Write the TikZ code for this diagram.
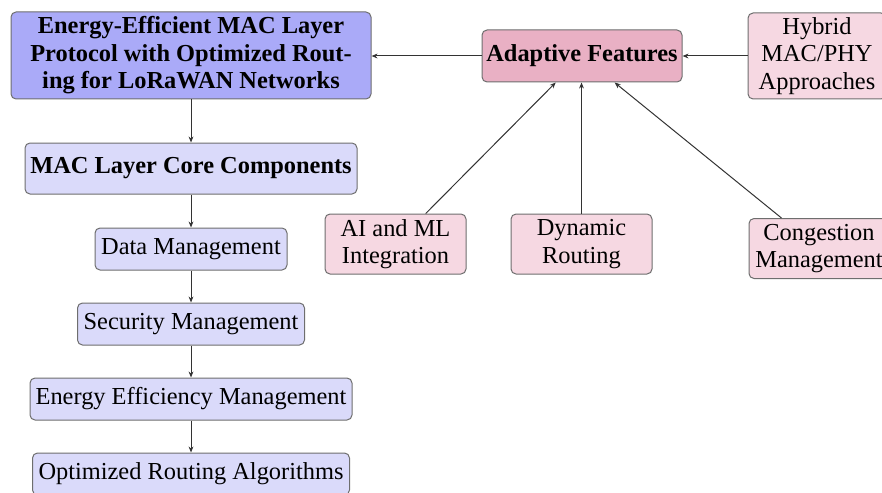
\documentclass[tikz,border=0pt]{standalone}
\usepackage{fontspec}
\setmainfont{Liberation Serif}
\usetikzlibrary{arrows.meta}
\definecolor{mainblue}{RGB}{170,170,248}
\definecolor{lightblue}{RGB}{218,218,250}
\definecolor{midpink}{RGB}{233,176,196}
\definecolor{lightpink}{RGB}{246,216,226}
\definecolor{edgegray}{RGB}{110,110,110}
\tikzset{
  basebox/.style={draw=edgegray, line width=0.5pt, rounded corners=2.5pt, align=center,
    inner sep=2pt, font=\fontsize{12.2}{13.8}\selectfont},
  mainbox/.style={basebox, fill=mainblue, font=\fontsize{12.2}{13.8}\selectfont\bfseries},
  corebox/.style={basebox, fill=lightblue},
  adbox/.style={basebox, fill=midpink, font=\fontsize{12.2}{13.8}\selectfont\bfseries},
  featbox/.style={basebox, fill=lightpink},
  conn/.style={draw=black!80, line width=0.5pt, -{Stealth[length=3pt,width=2.4pt]}}
}
\begin{document}
\begin{tikzpicture}[x=0.5pt,y=-0.5pt]
\useasboundingbox (0,0) rectangle (882,492);
\clip (0,0) rectangle (882,492);
\node[mainbox, minimum width=180pt, minimum height=43.5pt] (main) at (191,55.5)
  {Energy-Efficient MAC Layer\\Protocol with Optimized Rout-\\ing for LoRaWAN Networks};
\node[corebox, minimum width=166pt, minimum height=25.5pt, font=\fontsize{12.2}{13.8}\selectfont\bfseries] (core) at (191,168.5) {MAC Layer Core Components};
\node[corebox, minimum width=96pt, minimum height=21pt] (data) at (191,249) {Data Management};
\node[corebox, minimum width=113.5pt, minimum height=21pt] (sec) at (191,324) {Security Management};
\node[corebox, minimum width=161pt, minimum height=21pt] (eff) at (191,399) {Energy Efficiency Management};
\node[corebox, minimum width=158.5pt, minimum height=21pt] (opt) at (191,474) {Optimized Routing Algorithms};

\node[adbox, minimum width=100pt, minimum height=26pt] (adapt) at (582,56) {Adaptive Features};
\node[featbox, minimum width=69pt, minimum height=43pt] (hyb) at (817,56) {Hybrid\\MAC/PHY\\Approaches};
\node[featbox, minimum width=70.5pt, minimum height=30pt] (ai) at (395.5,244) {AI and ML\\Integration};
\node[featbox, minimum width=70.5pt, minimum height=30pt] (dyn) at (581.5,244) {Dynamic\\Routing};
\node[featbox, minimum width=70pt, minimum height=30pt] (cong) at (819,248.5) {Congestion\\Management};

\draw[conn] (main) -- (core);
\draw[conn] (core) -- (data);
\draw[conn] (data) -- (sec);
\draw[conn] (sec) -- (eff);
\draw[conn] (eff) -- (opt);
\draw[conn] (adapt) -- (main.east |- adapt);
\draw[conn] (hyb) -- (adapt);
\draw[conn] (ai) -- (adapt);
\draw[conn] (dyn.north) -- (dyn.north |- adapt.south);
\draw[conn] (cong) -- (adapt);
\end{tikzpicture}
\end{document}
